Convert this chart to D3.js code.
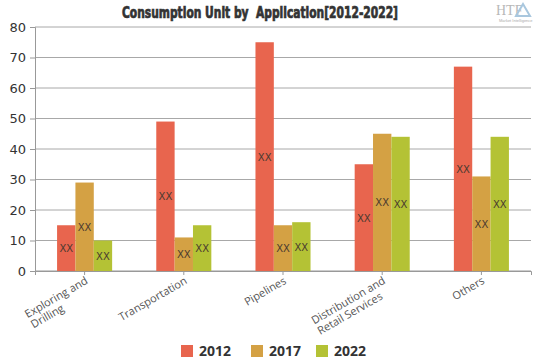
<!DOCTYPE html>
<html><head><meta charset="utf-8">
<script src="https://cdn.jsdelivr.net/npm/d3@7"></script>
<style>body{margin:0;background:#fff;}svg{display:block;}</style>
</head><body>
<svg id="chart" width="539" height="359"></svg>
<script>
const categories = ["Exploring and|Drilling", "Transportation", "Pipelines", "Distribution and|Retail Services", "Others"];
const seriesNames = ["2012", "2017", "2022"];
const values2012 = [15, 49, 75, 35, 67];
const values2017 = [29, 11, 15, 45, 31];
const values2022 = [10, 15, 16, 44, 44];
const yTicks = [0, 10, 20, 30, 40, 50, 60, 70, 80];
const barLabel = "XX";
const colors = ["#e8654e", "#d4a144", "#b4c235"];

const series = [values2012, values2017, values2022];
const svg = d3.select("#chart");
const margin = {left: 35, right: 8, top: 27, bottom: 88};
const W = 539, H = 359;
const x = d3.scaleBand().domain(d3.range(categories.length)).range([margin.left, W - margin.right]).paddingInner(0.445).paddingOuter(0.2225);
const xs = d3.scaleBand().domain(d3.range(series.length)).range([0, x.bandwidth()]);
const y = d3.scaleLinear().domain([0, 80]).range([H - margin.bottom, margin.top]);

// title
svg.append("text").attr("x", 260).attr("y", 18).attr("text-anchor", "middle")
  .style("white-space", "pre")
  .attr("font-family", "'Liberation Sans Narrow','DejaVu Sans Condensed',sans-serif").attr("font-weight", "bold")
  .attr("font-size", 15).attr("fill", "#333").attr("stroke", "#333").attr("stroke-width", 0.7)
  .attr("textLength", 276).attr("lengthAdjust", "spacingAndGlyphs")
  .text("Consumption Unit by  Application[2012-2022]");

// logo
svg.append("text").attr("x", 496).attr("y", 15).attr("font-family", "'Liberation Serif',serif").attr("font-size", 14).attr("fill", "#b8b8b8").text("HTF");
svg.append("path").attr("d", "M523,4 L530,16 L516,16 Z").attr("fill", "none").attr("stroke", "#a9c7de").attr("stroke-width", 2);
svg.append("text").attr("x", 499).attr("y", 22).attr("font-family", "sans-serif").attr("font-size", 4).attr("fill", "#aaa").text("Market Intelligence");

// grid
const grid = svg.append("g");
yTicks.forEach(t => {
  grid.append("line").attr("x1", margin.left).attr("x2", W - margin.right)
    .attr("y1", y(t)).attr("y2", y(t)).attr("stroke", t === 0 ? "#999" : "#a8a8a8").attr("stroke-width", 1);
});

// y axis
const yAxis = svg.append("g").attr("transform", `translate(${margin.left},0)`)
  .call(d3.axisLeft(y).tickValues(yTicks).tickSize(5).tickPadding(4));
yAxis.select(".domain").attr("stroke", "#999");
yAxis.selectAll(".tick line").attr("stroke", "#999");
yAxis.selectAll("text").attr("font-family", "'DejaVu Sans',sans-serif").attr("font-size", 13).attr("fill", "#333");

// bars
categories.forEach((c, i) => {
  series.forEach((s, j) => {
    const bx = x(i) + xs(j), bw = xs.bandwidth();
    svg.append("rect").attr("x", bx).attr("y", y(s[i])).attr("width", bw).attr("height", y(0) - y(s[i]))
      .attr("fill", colors[j]);
    svg.append("text").attr("x", bx + bw / 2).attr("y", y(s[i] / 2) + 4).attr("text-anchor", "middle")
      .attr("font-family", "'DejaVu Sans',sans-serif").attr("font-size", 10).attr("fill", "#4a3a30").text(barLabel);
  });
});

// x axis
const xAxis = svg.append("g").attr("transform", `translate(0,${y(0)})`)
  .call(d3.axisBottom(x).tickSize(4).tickFormat(""));
xAxis.select(".domain").attr("stroke", "#999");
xAxis.selectAll(".tick line").attr("stroke", "#999");
categories.forEach((c, i) => {
  const cx = x(i) + x.bandwidth() / 2;
  const lines = c.split("|");
  const t = svg.append("text").attr("transform", `translate(${cx + 4},${y(0) + 12}) rotate(-30)`)
    .attr("text-anchor", "start").attr("font-family", "'Open Sans','DejaVu Sans',sans-serif").attr("font-size", 11).attr("fill", "#555");
  const spans = lines.map((l, k) => t.append("tspan").attr("x", 0).attr("dy", k === 0 ? 0 : 12).text(l));
  const maxW = d3.max(spans, s => s.node().getComputedTextLength());
  spans.forEach(s => s.attr("x", -maxW));
});

// legend
const legX = [181, 251, 316];
seriesNames.forEach((n, j) => {
  svg.append("rect").attr("x", legX[j]).attr("y", 345).attr("width", 12).attr("height", 12).attr("fill", colors[j]);
  svg.append("text").attr("x", legX[j] + 18).attr("y", 356).attr("font-family", "'Open Sans','DejaVu Sans',sans-serif")
    .attr("font-weight", "bold").attr("font-size", 14).attr("fill", "#333").text(n);
});
</script>
</body></html>
